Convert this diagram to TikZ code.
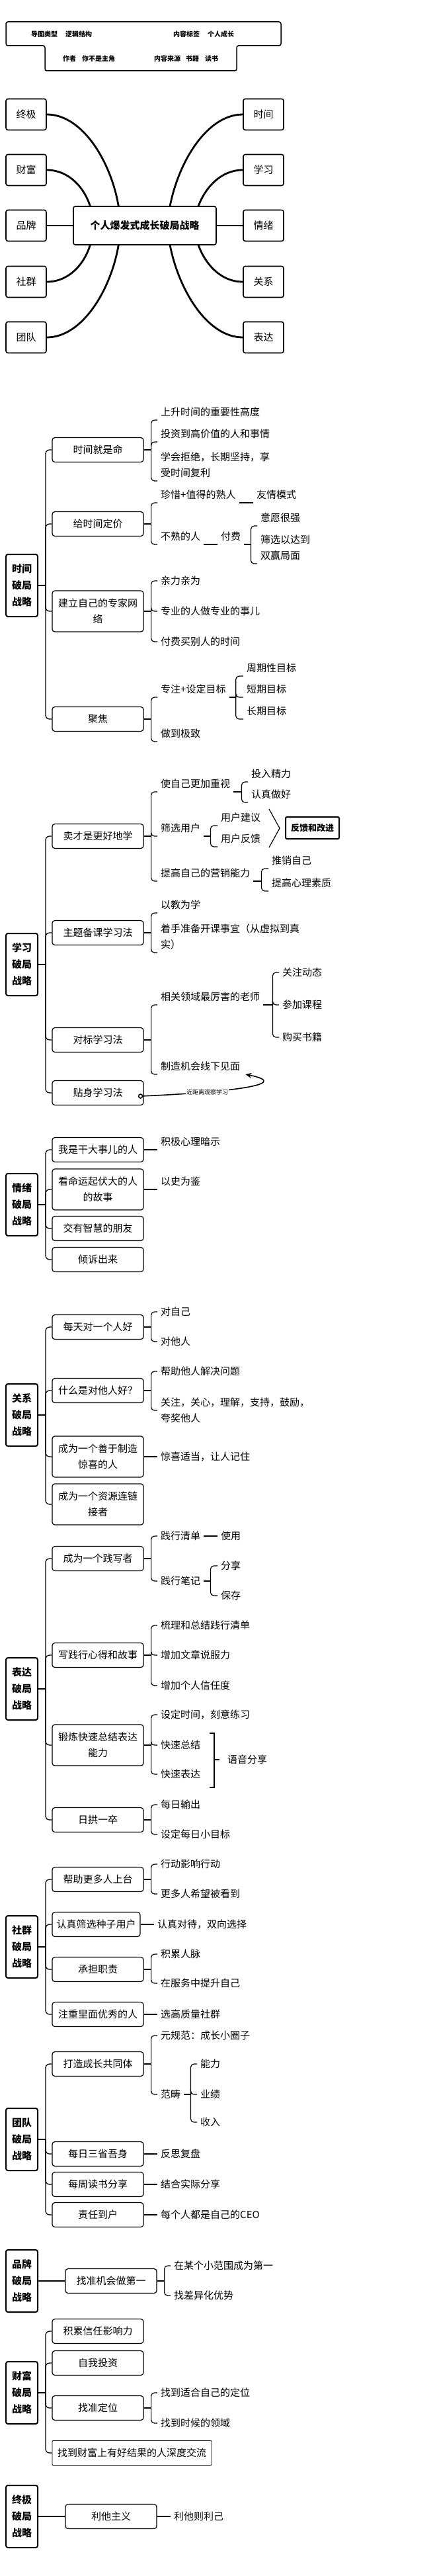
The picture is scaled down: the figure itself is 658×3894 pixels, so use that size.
\documentclass[tikz,border=0pt]{standalone}
\usepackage{fontspec}
\setmainfont{Noto Sans CJK SC}
\usetikzlibrary{calc,arrows.meta}
\newcommand{\fsz}[2]{\fontsize{#1}{#2}\selectfont}
\tikzset{
 base/.style={font=\fsz{15}{24}, inner sep=0pt},
 hdr/.style={font=\fsz{10}{12}\bfseries, inner sep=0pt, anchor=west},
 topbox/.style={base, draw, line width=1.6pt, rounded corners=3pt, minimum width=61pt, minimum height=47pt},
 central/.style={draw, inner sep=0pt, line width=1.6pt, rounded corners=3pt, minimum width=216pt, minimum height=58pt, font=\fsz{15}{18}\bfseries},
 secbox/.style={draw, line width=2pt, rounded corners=3pt, minimum width=48pt, minimum height=94pt, align=center, font=\fsz{15}{25}\bfseries, inner sep=0pt},
 subbox/.style={base, draw, line width=1.2pt, rounded corners=4pt, minimum width=138pt, minimum height=37pt, align=center},
 leafb/.style={base, anchor=south west, inner xsep=5pt, inner ysep=5pt, align=left},
 leafc/.style={base, anchor=west, inner xsep=5pt, align=left},
 conn/.style={line width=1.2pt},
 rc/.style={line width=1.2pt, rounded corners=5pt},
 trunk/.style={line width=1.3pt, rounded corners=6pt},
 stem/.style={line width=2.5pt},
 bigc/.style={line width=2.8pt},
 lbl/.style={font=\fsz{9}{10}, fill=white, inner sep=1pt}
}
\begin{document}
\begin{tikzpicture}[x=1pt,y=-1pt]
\useasboundingbox (0,0) rectangle (658,3894);

% ---------- header ----------
\draw[line width=1.5pt, rounded corners=3pt] (9,33) -- (425,33) -- (425,69) -- (358,69) -- (358,107) -- (68,107) -- (68,69) -- (9,69) -- cycle;
\node[hdr] (h1) at (47,52) {导图类型\hspace{12pt}逻辑结构};
\node[hdr] (h2) at (262,52) {内容标签\hspace{12pt}个人成长};
\node[hdr] (h3) at (95,89) {作者\hspace{9pt}你不是主角};
\node[hdr] (h4) at (233,89) {内容来源\hspace{8pt}书籍\hspace{9pt}读书};

% ---------- overview map ----------
\node[central] (c) at (219,341) {个人爆发式成长破局战略};
\node[topbox] (t1) at (39.5,173) {终极};
\node[topbox] (t2) at (39.5,257) {财富};
\node[topbox] (t3) at (39.5,341) {品牌};
\node[topbox] (t4) at (39.5,426) {社群};
\node[topbox] (t5) at (39.5,510) {团队};
\node[topbox] (r1) at (398.5,173) {时间};
\node[topbox] (r2) at (398.5,257) {学习};
\node[topbox] (r3) at (398.5,341) {情绪};
\node[topbox] (r4) at (398.5,426) {关系};
\node[topbox] (r5) at (398.5,510) {表达};
\draw[bigc] (t1.east) .. controls (125,173) and (168,245) .. ([xshift=69pt]c.north west);
\draw[bigc] (t2.east) .. controls (105,257) and (128,285) .. ([xshift=26pt]c.north west);
\draw[line width=1.6pt] (t3.east) -- (c.west);
\draw[bigc] (t4.east) .. controls (105,426) and (128,398) .. ([xshift=26pt]c.south west);
\draw[bigc] (t5.east) .. controls (125,510) and (168,437) .. ([xshift=69pt]c.south west);
\draw[bigc] (r1.west) .. controls (313,173) and (270,245) .. ([xshift=147pt]c.north west);
\draw[bigc] (r2.west) .. controls (333,257) and (310,285) .. ([xshift=190pt]c.north west);
\draw[line width=1.6pt] (c.east) -- (r3.west);
\draw[bigc] (r4.west) .. controls (333,426) and (310,398) .. ([xshift=190pt]c.south west);
\draw[bigc] (r5.west) .. controls (313,510) and (270,437) .. ([xshift=147pt]c.south west);

% ---------- section 1 ----------
\node[secbox] (S1) at (33,885) {时间\\破局\\战略};
\node[subbox] (a1) at (148,680) {时间就是命};
\node[subbox] (a2) at (148,792) {给时间定价};
\node[subbox, minimum height=62pt] (a3) at (148,924) {建立自己的专家网\\络};
\node[subbox] (a4) at (148,1087) {聚焦};
\draw[stem] (S1.east) -- ++(11,0) coordinate (S1h);
\foreach \nn in {a1,a2,a3,a4} \draw[trunk] (S1h) |- (\nn.west);

\node[leafb] (a1l1) at (238,635) {上升时间的重要性高度};
\node[leafb] (a1l2) at (238,668) {投资到高价值的人和事情};
\node[leafb] (a1l3) at (238,727) {学会拒绝，长期坚持，享\\受时间复利};
\draw[conn] (a1.east) -- ++(11,0) coordinate (a1h);
\foreach \nn in {a1l1,a1l2,a1l3} \draw[rc] (a1h) |- (\nn.south west);

\node[leafb] (a2l1) at (238,760) {珍惜+值得的熟人};
\node[leafb] (a2l1a) at (383,760) {友情模式};
\draw[conn] (a2l1.south east) -- (a2l1a.south west);
\node[leafb] (a2l2) at (238,823) {不熟的人};
\node[leafb] (a2l2a) at (329,823) {付费};
\draw[conn] (a2l2.south east) -- (a2l2a.south west);
\draw[conn] (a2.east) -- ++(11,0) coordinate (a2h);
\foreach \nn in {a2l1,a2l2} \draw[rc] (a2h) |- (\nn.south west);
\node[leafb] (a2m1) at (389,795) {意愿很强};
\node[leafb] (a2m2) at (389,852) {筛选以达到\\双赢局面};
\draw[conn] (a2l2a.south east) -- ++(10,0) coordinate (a2h2);
\foreach \nn in {a2m1,a2m2} \draw[rc] (a2h2) |- (\nn.south west);

\node[leafc] (a3l1) at (238,878) {亲力亲为};
\node[leafc] (a3l2) at (238,924) {专业的人做专业的事儿};
\node[leafc] (a3l3) at (238,970) {付费买别人的时间};
\draw[conn] (a3.east) -- ++(11,0) coordinate (a3h);
\foreach \nn in {a3l1,a3l2,a3l3} \draw[rc] (a3h) |- (\nn.west);

\node[leafb] (a4l1) at (238,1054) {专注+设定目标};
\node[leafb] (a4l2) at (238,1121) {做到极致};
\draw[conn] (a4.east) -- ++(11,0) coordinate (a4h);
\foreach \nn in {a4l1,a4l2} \draw[rc] (a4h) |- (\nn.south west);
\node[leafb] (a4m1) at (368,1022) {周期性目标};
\node[leafb] (a4m2) at (368,1054) {短期目标};
\node[leafb] (a4m3) at (368,1087) {长期目标};
\draw[conn] (a4l1.south east) -- ++(10,0) coordinate (a4h2);
\foreach \nn in {a4m1,a4m2,a4m3} \draw[rc] (a4h2) |- (\nn.south west);

% ---------- section 2 ----------
\node[secbox] (S2) at (33,1458) {学习\\破局\\战略};
\node[subbox] (b1) at (148,1264) {卖才是更好地学};
\node[subbox] (b2) at (148,1410) {主题备课学习法};
\node[subbox] (b3) at (148,1572) {对标学习法};
\node[subbox] (b4) at (148,1652) {贴身学习法};
\draw[stem] (S2.east) -- ++(11,0) coordinate (S2h);
\foreach \nn in {b1,b2,b3,b4} \draw[trunk] (S2h) |- (\nn.west);

\node[leafb] (b1l1) at (238,1197) {使自己更加重视};
\node[leafb] (b1l2) at (238,1264) {筛选用户};
\node[leafb] (b1l3) at (238,1332) {提高自己的营销能力};
\draw[conn] (b1.east) -- ++(11,0) coordinate (b1h);
\foreach \nn in {b1l1,b1l2,b1l3} \draw[rc] (b1h) |- (\nn.south west);
\node[leafb] (b1m1) at (375,1182) {投入精力};
\node[leafb] (b1m2) at (375,1213) {认真做好};
\draw[conn] (b1l1.south east) -- ++(12,0) coordinate (b1h1);
\foreach \nn in {b1m1,b1m2} \draw[rc] (b1h1) |- (\nn.south west);
\node[leafb] (b1n1) at (329,1248) {用户建议};
\node[leafb] (b1n2) at (329,1280) {用户反馈};
\draw[conn] (b1l2.south east) -- ++(10,0) coordinate (b1h2);
\foreach \nn in {b1n1,b1n2} \draw[rc] (b1h2) |- (\nn.south west);
\coordinate (sumA) at (407,1223);
\coordinate (sumB) at (423,1252);
\coordinate (sumC) at (407,1281);
\draw[conn] (sumA) -- (sumB) -- (sumC);
\node[draw, line width=2pt, rounded corners=2pt, minimum width=81pt, minimum height=33pt, inner sep=0pt, font=\fsz{13}{15}\bfseries] (fb) at (472.5,1251.5) {反馈和改进};
\node[leafb] (b1o1) at (406,1313) {推销自己};
\node[leafb] (b1o2) at (406,1347) {提高心理素质};
\draw[conn] (b1l3.south east) -- ++(12,0) coordinate (b1h3);
\foreach \nn in {b1o1,b1o2} \draw[rc] (b1h3) |- (\nn.south west);

\node[leafb] (b2l1) at (238,1380) {以教为学};
\node[leafb] (b2l2) at (238,1440) {着手准备开课事宜（从虚拟到真\\实）};
\draw[conn] (b2.east) -- ++(11,0) coordinate (b2h);
\foreach \nn in {b2l1,b2l2} \draw[rc] (b2h) |- (\nn.south west);

\node[leafb] (b3l1) at (238,1519) {相关领域最厉害的老师};
\node[leafb] (b3l2) at (238,1624) {制造机会线下见面};
\draw[conn] (b3.east) -- ++(11,0) coordinate (b3h);
\foreach \nn in {b3l1,b3l2} \draw[rc] (b3h) |- (\nn.south west);
\node[leafc] (b3m1) at (422,1470) {关注动态};
\node[leafc] (b3m2) at (422,1519) {参加课程};
\node[leafc] (b3m3) at (422,1568) {购买书籍};
\draw[conn] (b3l1.south east) -- ++(14,0) coordinate (b3h2);
\foreach \nn in {b3m1,b3m2,b3m3} \draw[rc] (b3h2) |- (\nn.west);

\coordinate (relS) at ([xshift=-5pt,yshift=-5pt]b4.east);
\draw[line width=1.6pt, -{Stealth[length=9pt,width=8pt]}] (relS) .. controls (330,1652) and (450,1640) .. ([xshift=3pt]b3l2.south east) node[pos=0.3, lbl] {近距离观察学习};
\draw[line width=1.5pt, fill=white] (relS) circle (3pt);

% ---------- section 3 ----------
\node[secbox] (S3) at (33,1821) {情绪\\破局\\战略};
\node[subbox] (c1) at (148,1738) {我是干大事儿的人};
\node[subbox, minimum height=62pt] (c2) at (148,1798) {看命运起伏大的人\\的故事};
\node[subbox] (c3) at (148,1857) {交有智慧的朋友};
\node[subbox] (c4) at (148,1904) {倾诉出来};
\draw[stem] (S3.east) -- ++(11,0) coordinate (S3h);
\foreach \nn in {c1,c2,c3,c4} \draw[trunk] (S3h) |- (\nn.west);
\node[leafb] (c1l) at (238,1738) {积极心理暗示};
\draw[conn] (c1.east) -- (c1l.south west);
\node[leafb] (c2l) at (238,1798) {以史为鉴};
\draw[conn] (c2.east) -- (c2l.south west);

% ---------- section 4 ----------
\node[secbox] (S4) at (33,2139) {关系\\破局\\战略};
\node[subbox] (d1) at (148,2006) {每天对一个人好};
\node[subbox] (d2) at (148,2102) {什么是对他人好？};
\node[subbox, minimum height=62pt] (d3) at (148,2202) {成为一个善于制造\\惊喜的人};
\node[subbox, minimum height=62pt] (d4) at (148,2274) {成为一个资源连链\\接者};
\draw[stem] (S4.east) -- ++(11,0) coordinate (S4h);
\foreach \nn in {d1,d2,d3,d4} \draw[trunk] (S4h) |- (\nn.west);
\node[leafc] (d1l1) at (238,1983) {对自己};
\node[leafc] (d1l2) at (238,2028) {对他人};
\draw[conn] (d1.east) -- ++(11,0) coordinate (d1h);
\foreach \nn in {d1l1,d1l2} \draw[rc] (d1h) |- (\nn.west);
\node[leafc] (d2l1) at (238,2073) {帮助他人解决问题};
\node[leafc] (d2l2) at (238,2132) {关注，关心，理解，支持，鼓励，\\夸奖他人};
\draw[conn] (d2.east) -- ++(11,0) coordinate (d2h);
\foreach \nn in {d2l1,d2l2} \draw[rc] (d2h) |- (\nn.west);
\node[leafc] (d3l) at (238,2202) {惊喜适当，让人记住};
\draw[conn] (d3.east) -- (d3l.west);

% ---------- section 5 ----------
\node[secbox] (S5) at (33,2553) {表达\\破局\\战略};
\node[subbox] (e1) at (148,2356) {成为一个践写者};
\node[subbox] (e2) at (148,2502) {写践行心得和故事};
\node[subbox, minimum height=62pt] (e3) at (148,2638) {锻炼快速总结表达\\能力};
\node[subbox] (e4) at (148,2751) {日拱一卒};
\draw[stem] (S5.east) -- ++(11,0) coordinate (S5h);
\foreach \nn in {e1,e2,e3,e4} \draw[trunk] (S5h) |- (\nn.west);
\node[leafc] (e1l1) at (238,2322) {践行清单};
\node[leafc] (e1l1a) at (329,2322) {使用};
\draw[conn] (e1l1.east) -- (e1l1a.west);
\node[leafc] (e1l2) at (238,2390) {践行笔记};
\draw[conn] (e1.east) -- ++(11,0) coordinate (e1h);
\foreach \nn in {e1l1,e1l2} \draw[rc] (e1h) |- (\nn.west);
\node[leafc] (e1m1) at (329,2367) {分享};
\node[leafc] (e1m2) at (329,2412) {保存};
\draw[conn] (e1l2.east) -- ++(10,0) coordinate (e1h2);
\foreach \nn in {e1m1,e1m2} \draw[rc] (e1h2) |- (\nn.west);
\node[leafc] (e2l1) at (238,2457) {梳理和总结践行清单};
\node[leafc] (e2l2) at (238,2502) {增加文章说服力};
\node[leafc] (e2l3) at (238,2548) {增加个人信任度};
\draw[conn] (e2.east) -- ++(11,0) coordinate (e2h);
\foreach \nn in {e2l1,e2l2,e2l3} \draw[rc] (e2h) |- (\nn.west);
\node[leafc] (e3l1) at (238,2592) {设定时间，刻意练习};
\node[leafc] (e3l2) at (238,2638) {快速总结};
\node[leafc] (e3l3) at (238,2682) {快速表达};
\draw[conn] (e3.east) -- ++(11,0) coordinate (e3h);
\foreach \nn in {e3l1,e3l2,e3l3} \draw[rc] (e3h) |- (\nn.west);
\draw[line width=1.6pt] (317,2620) -- (324,2620) -- (324,2702) -- (317,2702);
\node[leafc, inner xsep=0pt] (e3s) at (344,2660) {语音分享};
\draw[line width=1.6pt] (324,2660) -- (332,2660);
\node[leafc] (e4l1) at (238,2728) {每日输出};
\node[leafc] (e4l2) at (238,2773) {设定每日小目标};
\draw[conn] (e4.east) -- ++(11,0) coordinate (e4h);
\foreach \nn in {e4l1,e4l2} \draw[rc] (e4h) |- (\nn.west);

% ---------- section 6 ----------
\node[secbox] (S6) at (33,2943) {社群\\破局\\战略};
\node[subbox] (f1) at (148,2841) {帮助更多人上台};
\node[subbox, minimum width=133pt] (f2) at (145.5,2909) {认真筛选种子用户};
\node[subbox] (f3) at (148,2977) {承担职责};
\node[subbox] (f4) at (148,3045) {注重里面优秀的人};
\draw[stem] (S6.east) -- ++(11,0) coordinate (S6h);
\foreach \nn in {f1,f2,f3,f4} \draw[trunk] (S6h) |- (\nn.west);
\node[leafc] (f1l1) at (238,2818) {行动影响行动};
\node[leafc] (f1l2) at (238,2863) {更多人希望被看到};
\draw[conn] (f1.east) -- ++(11,0) coordinate (f1h);
\foreach \nn in {f1l1,f1l2} \draw[rc] (f1h) |- (\nn.west);
\node[leafc] (f2l) at (233,2909) {认真对待，双向选择};
\draw[conn] (f2.east) -- (f2l.west);
\node[leafc] (f3l1) at (238,2954) {积累人脉};
\node[leafc] (f3l2) at (238,2998) {在服务中提升自己};
\draw[conn] (f3.east) -- ++(11,0) coordinate (f3h);
\foreach \nn in {f3l1,f3l2} \draw[rc] (f3h) |- (\nn.west);
\node[leafc] (f4l) at (238,3045) {选高质量社群};
\draw[conn] (f4.east) -- (f4l.west);

% ---------- section 7 ----------
\node[secbox] (S7) at (33,3234) {团队\\破局\\战略};
\node[subbox] (g1) at (148,3120) {打造成长共同体};
\node[subbox] (g2) at (148,3256) {每日三省吾身};
\node[subbox] (g3) at (148,3302) {每周读书分享};
\node[subbox] (g4) at (148,3348) {责任到户};
\draw[stem] (S7.east) -- ++(11,0) coordinate (S7h);
\foreach \nn in {g1,g2,g3,g4} \draw[trunk] (S7h) |- (\nn.west);
\node[leafc] (g1l1) at (238,3077) {元规范：成长小圈子};
\node[leafc] (g1l2) at (238,3166) {范畴};
\draw[conn] (g1.east) -- ++(11,0) coordinate (g1h);
\foreach \nn in {g1l1,g1l2} \draw[rc] (g1h) |- (\nn.west);
\node[leafc] (g1m1) at (298,3120) {能力};
\node[leafc] (g1m2) at (298,3166) {业绩};
\node[leafc] (g1m3) at (298,3208) {收入};
\draw[conn] (g1l2.east) -- ++(10,0) coordinate (g1h2);
\foreach \nn in {g1m1,g1m2,g1m3} \draw[rc] (g1h2) |- (\nn.west);
\node[leafc] (g2l) at (238,3256) {反思复盘};
\draw[conn] (g2.east) -- (g2l.west);
\node[leafc] (g3l) at (238,3302) {结合实际分享};
\draw[line width=2pt] (g3.east) -- (g3l.west);
\node[leafc] (g4l) at (238,3348) {每个人都是自己的CEO};
\draw[conn] (g4.east) -- (g4l.west);

% ---------- section 8 ----------
\node[secbox] (S8) at (33,3448) {品牌\\破局\\战略};
\node[subbox] (h1b) at (168,3448) {找准机会做第一};
\draw[conn] (S8.east) -- (h1b.west);
\node[leafc] (h1l1) at (258,3425) {在某个小范围成为第一};
\node[leafc] (h1l2) at (258,3470) {找差异化优势};
\draw[conn] (h1b.east) -- ++(11,0) coordinate (h1h);
\foreach \nn in {h1l1,h1l2} \draw[rc] (h1h) |- (\nn.west);

% ---------- section 9 ----------
\node[secbox] (S9) at (33,3617) {财富\\破局\\战略};
\node[subbox] (i1) at (148,3524) {积累信任影响力};
\node[subbox] (i2) at (148,3572) {自我投资};
\node[subbox] (i3) at (148,3640) {找准定位};
\node[subbox, minimum width=241pt, line width=0.8pt, rounded corners=1pt] (i4) at (199.5,3708) {找到财富上有好结果的人深度交流};
\draw[stem] (S9.east) -- ++(11,0) coordinate (S9h);
\foreach \nn in {i1,i2,i3,i4} \draw[trunk] (S9h) |- (\nn.west);
\node[leafc] (i3l1) at (238,3617) {找到适合自己的定位};
\node[leafc] (i3l2) at (238,3663) {找到时候的领域};
\draw[conn] (i3.east) -- ++(11,0) coordinate (i3h);
\foreach \nn in {i3l1,i3l2} \draw[rc] (i3h) |- (\nn.west);

% ---------- section 10 ----------
\node[secbox] (S10) at (33,3804) {终极\\破局\\战略};
\node[subbox] (j1) at (168,3804) {利他主义};
\draw[conn] (S10.east) -- (j1.west);
\node[leafc] (j1l) at (258,3804) {利他则利己};
\draw[conn] (j1.east) -- (j1l.west);
\end{tikzpicture}
\end{document}
